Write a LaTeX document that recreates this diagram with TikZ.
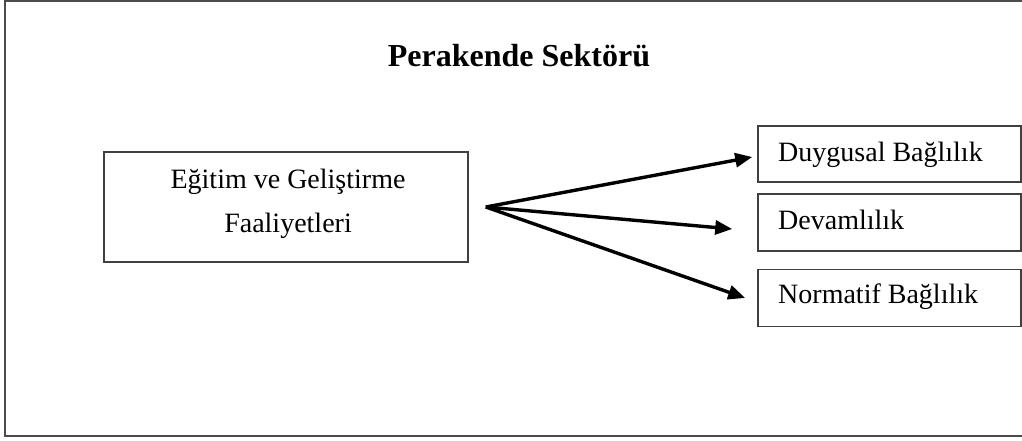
\documentclass[tikz,border=0pt]{standalone}
\usepackage{fontspec}
\setmainfont{Liberation Serif}
\usetikzlibrary{arrows.meta,calc}
\tikzset{
  frame/.style={draw=black!70, line width=1.8pt},
  box/.style={draw=black!75, line width=1.6pt, rectangle, inner sep=0pt},
  lbl/.style={inner sep=0pt, font=\fontsize{28}{33}\selectfont},
  ttl/.style={inner sep=0pt, font=\fontsize{32}{38}\selectfont\bfseries},
  arr/.style={line width=3.4pt, -{Triangle[length=17pt,width=14pt]}}
}
\begin{document}
\begin{tikzpicture}[x=1pt,y=-1pt]
\useasboundingbox (0,0) rectangle (1022,441);
\draw[frame] (5,1) rectangle (1030,436);
\node[ttl, anchor=base] (title) at (519,67) {Perakende Sektörü};
% source box
\node[box, minimum width=364pt, minimum height=110pt] (src) at (286,207) {};
\node[lbl, anchor=base] (srcA) at (288,188) {Eğitim ve Geliştirme};
\node[lbl, anchor=base] (srcB) at (288,232) {Faaliyetleri};
% target boxes
\node[box, minimum width=263pt, minimum height=56pt] (t1) at (889.5,154) {};
\node[box, minimum width=263pt, minimum height=57pt] (t2) at (889.5,222.5) {};
\node[box, minimum width=263pt, minimum height=57pt] (t3) at (889.5,298) {};
\node[lbl, anchor=base west] (t1l) at (778,161.5) {Duygusal Bağlılık};
\node[lbl, anchor=base west] (t2l) at (778,229.5) {Devamlılık};
\node[lbl, anchor=base west] (t3l) at (778,303.5) {Normatif Bağlılık};
% arrows
\coordinate (o) at ($(src.east)+(17pt,0)$);
\coordinate (e1) at ($(t1.west)+(-5pt,-3pt)$);
\coordinate (e2) at ($(t2.west)+(-25pt,-6.5pt)$);
\coordinate (e3) at ($(t3.west)+(-12pt,0pt)$);
\draw[arr] (o) -- (e1);
\draw[arr] (o) -- (e2);
\draw[arr] (o) -- (e3);
\end{tikzpicture}
\end{document}
